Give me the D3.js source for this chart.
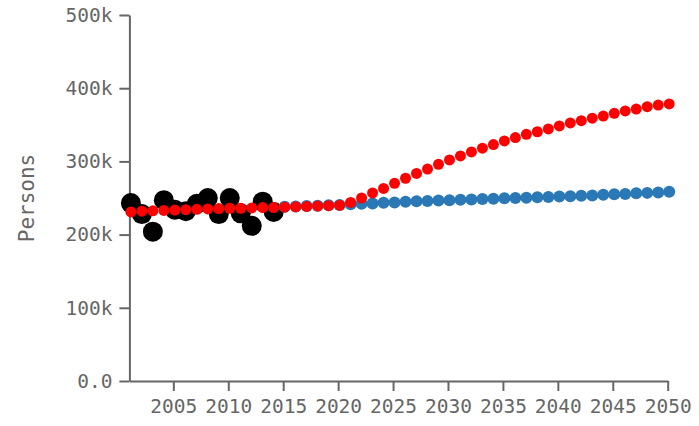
<!DOCTYPE html>
<html>
<head>
<meta charset="utf-8">
<script src="https://cdn.jsdelivr.net/npm/d3@7"></script>
<style>
  html, body { margin: 0; padding: 0; background: #fff; }
  svg { display: block; }
  text { font-family: "DejaVu Sans Mono", monospace; fill: #666; }
</style>
</head>
<body>
<svg id="chart" width="699" height="426"></svg>
<script>
// ---- data ----
const observedYears = [2001,2002,2003,2004,2005,2006,2007,2008,2009,2010,2011,2012,2013,2014];
const observedValues = [243000,228000,204000,247000,234000,232000,242000,250000,228000,250000,229000,212000,245000,231000];

const highYears = [2001,2002,2003,2004,2005,2006,2007,2008,2009,2010,2011,2012,2013,2014,2015,2016,2017,2018,2019,2020,
  2021,2022,2023,2024,2025,2026,2027,2028,2029,2030,2031,2032,2033,2034,2035,2036,2037,2038,2039,2040,
  2041,2042,2043,2044,2045,2046,2047,2048,2049,2050];
const highValues = [231000,232000,232500,233000,233500,234000,234500,235000,235500,236000,236000,236500,237000,237000,237500,238000,238500,239000,239500,240000,
  244000,250000,257000,263000,270000,277000,283500,289500,296000,302000,307500,313000,318000,323000,328000,332500,337000,340500,344300,348500,
  352500,355600,359000,362000,365700,369000,371500,374700,377000,378500];

const baseYears = [2015,2016,2017,2018,2019,2020,2021,2022,2023,2024,2025,2026,2027,2028,2029,2030,2031,2032,2033,2034,2035,
  2036,2037,2038,2039,2040,2041,2042,2043,2044,2045,2046,2047,2048,2049,2050];
const baseValues = [238000,238500,239000,239500,240000,240500,241500,242000,242500,243500,244000,245000,245500,246000,246500,247000,247500,248000,248500,249000,249500,
  250000,250500,251000,251500,252000,252500,253000,253500,254500,255000,255500,256500,257000,257500,258500];

const xTickValues = [2005,2010,2015,2020,2025,2030,2035,2040,2045,2050];
const yTickValues = [0,100000,200000,300000,400000,500000];
const yTickLabels = ["0.0","100k","200k","300k","400k","500k"];
const yAxisTitle = "Persons";

// ---- drawing ----
const svg = d3.select("#chart");
const x = d3.scaleLinear().domain([2001, 2050]).range([129.4, 667.7]);
const y = d3.scaleLinear().domain([0, 500000]).range([381, 15]);

const xAxis = d3.axisBottom(x).tickValues(xTickValues).tickFormat(d3.format("d")).tickSizeInner(10).tickSizeOuter(0).tickPadding(8);
const yAxis = d3.axisLeft(y).tickValues(yTickValues).tickFormat((d, i) => yTickLabels[i]).tickSizeInner(10).tickSizeOuter(0).tickPadding(7);

function styleAxis(g) {
  g.selectAll("path, line").attr("stroke", "#666").attr("stroke-width", 2);
  g.selectAll("text").attr("font-size", "19.5px").attr("fill", "#666")
    .attr("font-family", "DejaVu Sans Mono, monospace");
}

svg.append("g").attr("transform", `translate(0,${y(0)})`).call(xAxis).call(styleAxis);
svg.append("g").attr("transform", `translate(${x(2001)},0)`).call(yAxis).call(styleAxis);

svg.append("text")
  .attr("transform", `translate(34,198) rotate(-90)`)
  .attr("text-anchor", "middle")
  .attr("font-size", "21px")
  .text(yAxisTitle);

const observed = observedYears.map((d, i) => ({ x: d, v: observedValues[i] }));
const base = baseYears.map((d, i) => ({ x: d, v: baseValues[i] }));
const high = highYears.map((d, i) => ({ x: d, v: highValues[i] }));

const marks = svg.append("g").attr("transform", "translate(1.5,0)");
marks.append("g").selectAll("circle").data(observed).join("circle")
  .attr("cx", d => x(d.x)).attr("cy", d => y(d.v)).attr("r", 10).attr("fill", "#000");
marks.append("g").selectAll("circle").data(base).join("circle")
  .attr("cx", d => x(d.x)).attr("cy", d => y(d.v)).attr("r", 6).attr("fill", "#2a78b5");
marks.append("g").selectAll("circle").data(high).join("circle")
  .attr("cx", d => x(d.x)).attr("cy", d => y(d.v)).attr("r", 5.5).attr("fill", "#ff0000");
</script>
</body>
</html>
